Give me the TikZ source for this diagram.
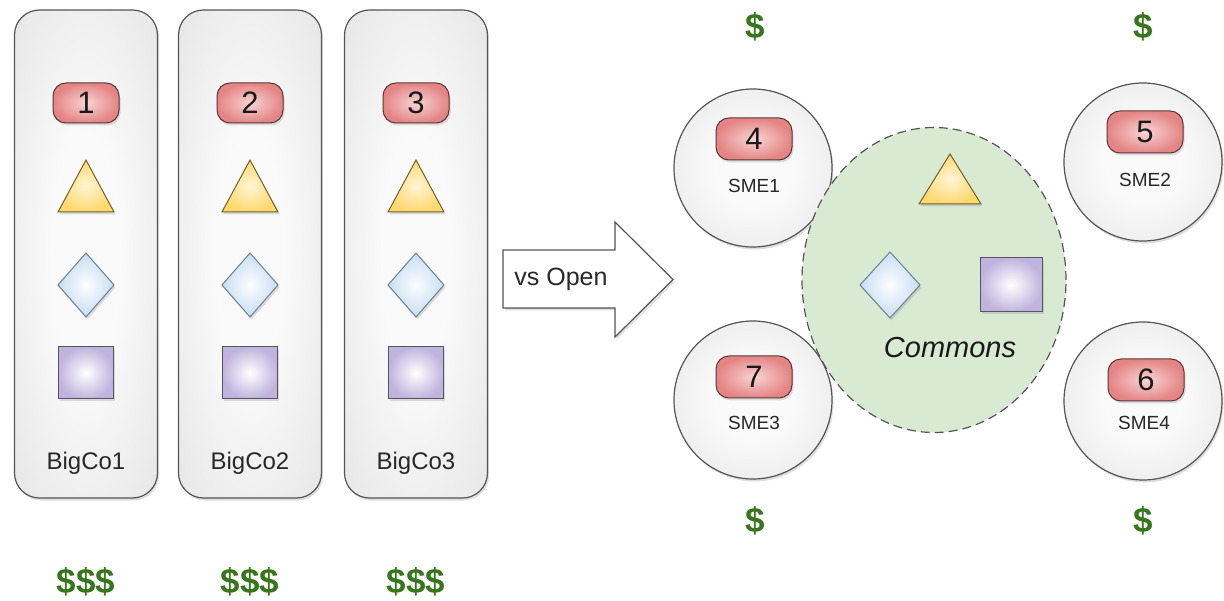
\documentclass[tikz,border=0pt]{standalone}
\usepackage{fontspec}
\setmainfont{Liberation Sans}
\usetikzlibrary{shadows,shapes.geometric}
\definecolor{pinkin}{RGB}{248,212,212}
\definecolor{pinkout}{RGB}{228,132,132}
\definecolor{pinkline}{RGB}{90,55,55}
\definecolor{yelin}{RGB}{255,246,215}
\definecolor{yelout}{RGB}{255,216,110}
\definecolor{yelline}{RGB}{115,95,40}
\definecolor{bluin}{RGB}{252,253,255}
\definecolor{bluout}{RGB}{200,222,242}
\definecolor{bluline}{RGB}{105,130,150}
\definecolor{purin}{RGB}{255,255,255}
\definecolor{purout}{RGB}{192,180,222}
\definecolor{purline}{RGB}{85,85,95}
\definecolor{grayin}{RGB}{250,250,250}
\definecolor{grayout}{RGB}{218,218,218}
\definecolor{frame}{RGB}{85,85,85}
\definecolor{commonsfill}{RGB}{217,234,211}
\definecolor{money}{RGB}{56,118,29}
\definecolor{txt}{RGB}{40,40,40}
\pgfdeclareradialshading{softgray}{\pgfpoint{0bp}{0bp}}{%
  color(0bp)=(grayin); color(12bp)=(grayin); color(50bp)=(grayout); color(100bp)=(grayout)}
\tikzset{
  shad/.style={drop shadow={opacity=0.25, shadow xshift=1.5pt, shadow yshift=-2.5pt}},
  colbox/.style={shad, draw=frame, line width=1.2pt, rounded corners=25pt,
    shading=softgray, minimum width=143, minimum height=488},
  pill/.style={shad, draw=pinkline, line width=1pt, rounded corners=13pt,
    inner color=pinkin, outer color=pinkout, minimum width=66, minimum height=40,
    inner sep=0pt, text=black!90, font=\fontsize{31}{31}\selectfont},
  bigpill/.style={pill, minimum width=76, minimum height=42},
  trishape/.style={shad, draw=yelline, line width=1pt, inner color=yelin, outer color=yelout},
  diashape/.style={shad, draw=bluline, line width=1pt, inner color=bluin, outer color=bluout},
  sqnode/.style={shad, draw=purline, line width=1pt, inner color=purin, outer color=purout,
    rectangle, inner sep=0pt},
  colname/.style={text=txt, font=\fontsize{24}{24}\selectfont},
  smename/.style={text=txt, font=\fontsize{19}{19}\selectfont},
  dollar/.style={text=money, font=\bfseries\fontsize{35}{35}\selectfont},
  smecircle/.style={shad, circle, draw=frame, line width=1.2pt,
    shading=softgray, minimum size=158, inner sep=0pt},
  commonsshape/.style={ellipse, draw=frame, line width=1.2pt, dash pattern=on 9pt off 5pt,
    fill=commonsfill, minimum width=264, minimum height=305, inner sep=0pt},
  tri/.pic={\path[trishape] (-28,26) -- (0,-26) -- (28,26) -- cycle;},
  bigtri/.pic={\path[trishape] (-31,25) -- (0,-25) -- (31,25) -- cycle;},
  dia/.pic={\path[diashape] (0,-32) -- (28,0) -- (0,32) -- (-28,0) -- cycle;},
  bigdia/.pic={\path[diashape] (0,-33) -- (30,0) -- (0,33) -- (-30,0) -- cycle;},
}
\begin{document}
\begin{tikzpicture}[x=1pt,y=-1pt]
\useasboundingbox (0,0) rectangle (1224,601);
% big companies
\foreach \i/\cx in {1/86,2/250,3/416}{
  \node[colbox] (col\i) at (\cx,254) {};
  \node[pill] (pill\i) at (\cx,103) {\i};
  \pic at (\cx,186) {tri};
  \pic at (\cx,285) {dia};
  \node[sqnode, minimum width=55, minimum height=52] (sq\i) at (\cx,373) {};
  \node[colname] (name\i) at (\cx,463) {BigCo\i};
  \node[dollar] (money\i) at (\cx,582) {\$\$\$};
}
% arrow
\path[shad, draw=frame, line width=1.2pt, fill=white]
  (503,250) -- (615,250) -- (615,222) -- (673,279.5) -- (615,337) -- (615,308) -- (503,308) -- cycle;
\node[text=txt, font=\fontsize{25}{25}\selectfont] (vs) at (561,279) {vs Open};
% SMEs
\node[smecircle] (sme1) at (753,168) {};
\node[smecircle] (sme2) at (1143,162) {};
\node[smecircle] (sme3) at (753,400) {};
\node[smecircle] (sme4) at (1143,401) {};
% commons
\node[commonsshape] (commons) at (934,280) {};
\pic at (950,179) {bigtri};
\pic at (890,285) {bigdia};
\node[sqnode, minimum width=62, minimum height=54] (sqc) at (1011,285) {};
\node[text=black!90, font=\itshape\fontsize{29}{29}\selectfont] (cname) at (950,348) {Commons};
% SME contents
\node[bigpill] (p4) at (754,139) {4};
\node[smename] (n1) at (754,186) {SME1};
\node[bigpill] (p5) at (1145,132) {5};
\node[smename] (n2) at (1145,180) {SME2};
\node[bigpill] (p7) at (754,377) {7};
\node[smename] (n3) at (754,423) {SME3};
\node[bigpill] (p6) at (1146,380) {6};
\node[smename] (n4) at (1144,423) {SME4};
% money
\node[dollar] (m1) at (755,27) {\$};
\node[dollar] (m2) at (1143,27) {\$};
\node[dollar] (m3) at (755,521) {\$};
\node[dollar] (m4) at (1143,521) {\$};
\end{tikzpicture}
\end{document}
